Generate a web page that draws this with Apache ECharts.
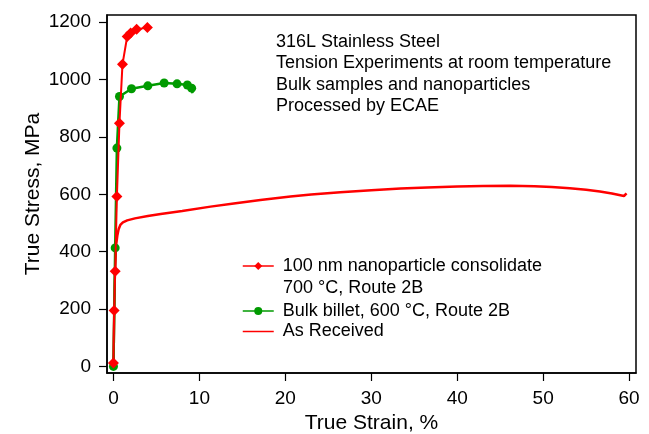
<!DOCTYPE html>
<html>
<head>
<meta charset="utf-8">
<script src="https://cdn.jsdelivr.net/npm/echarts@6/dist/echarts.min.js"></script>
<style>
  html, body { margin: 0; padding: 0; background: #fff; }
  #chart { width: 649px; height: 434px; }
</style>
</head>
<body>
<div id="chart"></div>
<script>
// tick labels
const strainTicks = [0, 10, 20, 30, 40, 50, 60];
const stressTicks = [0, 200, 400, 600, 800, 1000, 1200];

// 100 nm nanoparticle consolidate (diamonds)
const nanoStrain = [0, 0.08, 0.2, 0.4, 0.7, 1.05, 1.6, 2.0, 2.7, 3.95];
const nanoStress = [12, 195, 332, 592, 848, 1053, 1150, 1162, 1175, 1181];

// bulk billet (circles), last point is the drop after fracture
const bulkStrain = [0, 0.2, 0.4, 0.7, 2.1, 4.0, 5.9, 7.4, 8.6, 9.1, 9.2];
const bulkStress = [0, 413, 761, 941, 968, 978, 988, 985, 981, 970, 952];

// as received curve
const asRecStrain = [0, 0.15, 0.3, 0.45, 0.6, 0.8, 1.1, 1.6, 2.5, 4, 5.5, 8, 11.3, 14, 17.1, 20.6,
  23, 26.4, 30, 33.4, 36.5, 40, 43, 46.2, 49, 51, 53.1, 55, 56.6, 58, 59.4, 59.7];
const asRecStress = [0, 300, 420, 455, 478, 493, 502, 509, 516, 524, 531, 542, 557, 568, 580, 592,
  599, 607, 614, 620, 624, 627, 629, 630, 628, 625, 621, 616, 610, 603, 594, 603];

const seriesNames = ['100 nm nanoparticle consolidate', 'Bulk billet, 600 \u00b0C, Route 2B', 'As Received'];
const nameSecondLine = '700 \u00b0C, Route 2B';
const noteLines = ['316L Stainless Steel', 'Tension Experiments at room temperature',
  'Bulk samples and nanoparticles', 'Processed by ECAE'];

const RED = '#ff0000';
const GREEN = '#009a00';
const FONT = 'Liberation Sans, Arial, sans-serif';

function pairs(xs, ys) {
  return xs.map((x, i) => [x, ys[i]]);
}

const chart = echarts.init(document.getElementById('chart'), null, { renderer: 'canvas' });

const legendText = { fontSize: 18, color: '#000', fontFamily: FONT, lineHeight: 20, padding: [0, 0, 0, 4] };

const option = {
  animation: false,
  textStyle: { fontFamily: FONT, color: '#000' },
  grid: {
    left: 107, right: 13, top: 15, bottom: 61,
    outerBoundsMode: 'none',
    containLabel: false,
    show: true, borderColor: '#000', borderWidth: 1.5, backgroundColor: 'transparent'
  },
  xAxis: {
    type: 'value',
    min: -0.75, max: 60.8,
    name: 'True Strain, %',
    nameLocation: 'middle',
    nameGap: 40,
    nameMoveOverlap: false,
    nameTextStyle: { fontSize: 21, color: '#000', fontFamily: FONT },
    axisLine: { onZero: false, lineStyle: { color: '#000', width: 1.5 } },
    axisTick: { customValues: strainTicks, length: 8, lineStyle: { color: '#000', width: 1.2 } },
    axisLabel: { customValues: strainTicks, fontSize: 19, color: '#000', margin: 16, fontFamily: FONT,
      formatter: v => String(v) },
    splitLine: { show: false }
  },
  yAxis: {
    type: 'value',
    min: -23, max: 1225,
    name: 'True Stress, MPa',
    nameLocation: 'middle',
    nameGap: 63,
    nameMoveOverlap: false,
    nameTextStyle: { fontSize: 21, color: '#000', fontFamily: FONT },
    axisLine: { onZero: false, lineStyle: { color: '#000', width: 1.5 } },
    axisTick: { customValues: stressTicks, length: 8, lineStyle: { color: '#000', width: 1.2 } },
    axisLabel: { customValues: stressTicks, fontSize: 19, color: '#000', margin: 16, fontFamily: FONT,
      formatter: v => String(v) },
    splitLine: { show: false }
  },
  legend: [
    {
      data: [seriesNames[0]],
      orient: 'vertical',
      left: 242, top: 256,
      padding: 0,
      itemWidth: 31, itemHeight: 10,
      lineStyle: { width: 1.5 },
      textStyle: legendText
    },
    {
      data: [
        seriesNames[1],
        { name: seriesNames[2], itemStyle: { color: 'transparent', borderWidth: 0, opacity: 0 } }
      ],
      orient: 'vertical',
      left: 242, top: 301,
      padding: 0,
      itemGap: 0.5,
      itemWidth: 31, itemHeight: 10,
      lineStyle: { width: 1.5 },
      textStyle: legendText
    }
  ],
  graphic: [
    {
      type: 'text',
      left: 283, top: 279,
      style: { text: nameSecondLine, font: '18px ' + FONT, fill: '#000' }
    },
    {
      type: 'text',
      left: 276, top: 31,
      style: { text: noteLines.join('\n'), font: '18px ' + FONT, lineHeight: 21.5, fill: '#000' }
    }
  ],
  series: [
    {
      name: seriesNames[2],
      type: 'line',
      data: pairs(asRecStrain, asRecStress),
      symbol: 'none',
      lineStyle: { color: RED, width: 2.5 },
      itemStyle: { color: RED },
      z: 2
    },
    {
      name: seriesNames[1],
      type: 'line',
      data: pairs(bulkStrain, bulkStress),
      symbol: (v, p) => (p.dataIndex === bulkStrain.length - 1 ? 'none' : 'circle'),
      symbolSize: 9,
      showAllSymbol: true,
      lineStyle: { color: GREEN, width: 2.5 },
      itemStyle: { color: GREEN },
      z: 3
    },
    {
      name: seriesNames[0],
      type: 'line',
      data: pairs(nanoStrain, nanoStress),
      symbol: 'diamond',
      symbolSize: 11,
      showAllSymbol: true,
      lineStyle: { color: RED, width: 2 },
      itemStyle: { color: RED },
      z: 4
    }
  ]
};

chart.setOption(option);
</script>
</body>
</html>
